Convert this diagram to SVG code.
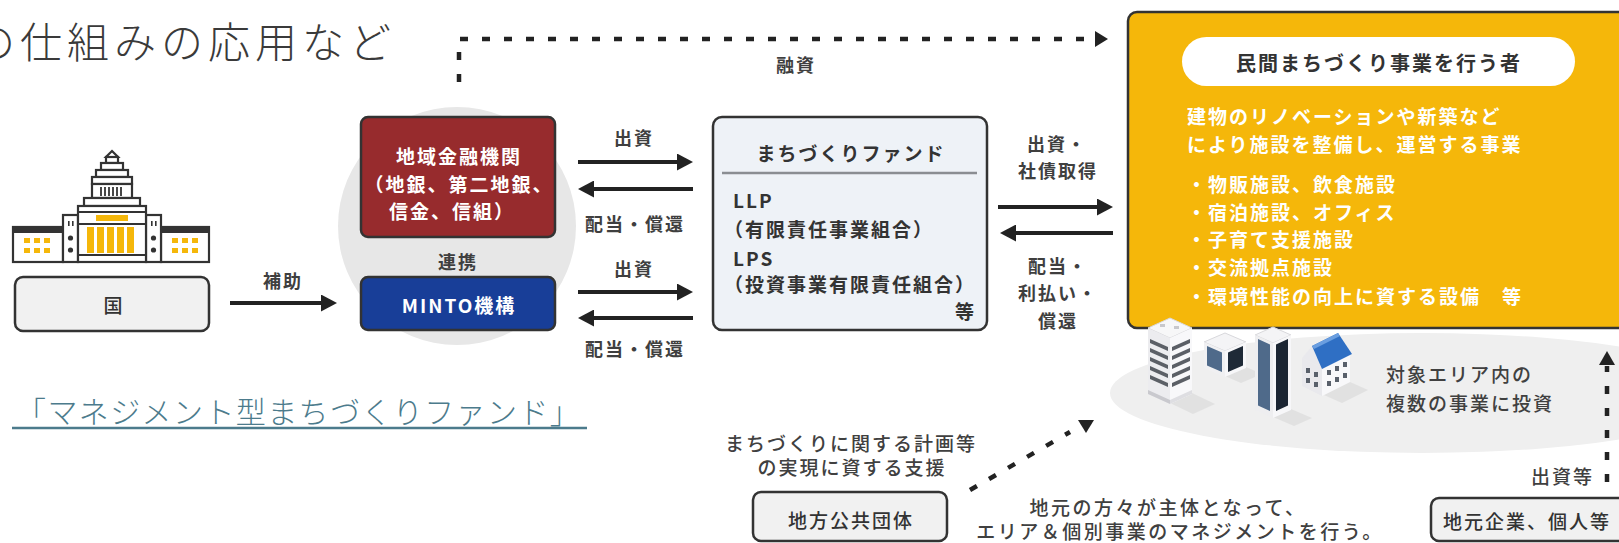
<svg xmlns="http://www.w3.org/2000/svg" width="1619" height="543" viewBox="0 0 1619 543">
  <style>
    text { font-family: "Noto Sans CJK JP", "Noto Sans", sans-serif; dominant-baseline: central; }
    .title { font-size: 42px; font-weight: 300; fill: #3a3a3a; letter-spacing: 5px; }
    .link { font-size: 30px; font-weight: 300; fill: #4c7b8c; letter-spacing: 1.4px; }
    .lbl { font-size: 18px; font-weight: 700; fill: #3f3f3f; letter-spacing: 2px; text-anchor: middle; }
    .note { font-size: 19px; font-weight: 500; fill: #404040; letter-spacing: 2px; }
    .mid { text-anchor: middle; }
    .end { text-anchor: end; }
    .box-text { font-size: 19px; font-weight: 700; fill: #333; letter-spacing: 2px; }
    .white { fill: #ffffff; }
    .solid { stroke: #222; stroke-width: 4; fill: none; }
    .dash { stroke: #222; stroke-width: 4.5; fill: none; stroke-dasharray: 8 14; }
    .outline { stroke: #333; stroke-width: 2.5; }
    .icon { stroke: #333; stroke-width: 2.2; fill: #fff; }
    .gold { fill: #f5b70a; }
  </style>
  <defs>
    <marker id="arrow" markerUnits="userSpaceOnUse" viewBox="0 0 16 17" markerWidth="16" markerHeight="17" refX="8" refY="8.5" orient="auto">
      <path d="M0,0 L16,8.5 L0,17 Z" fill="#222"/>
    </marker>
    <marker id="arrow-small" markerUnits="userSpaceOnUse" viewBox="0 0 13 16" markerWidth="13" markerHeight="16" refX="2" refY="8" orient="auto">
      <path d="M0,0 L13,8 L0,16 Z" fill="#222"/>
    </marker>
  </defs>

  <rect width="1619" height="543" fill="#ffffff"/>

  <!-- page heading and link -->
  <text class="title" x="-27" y="39">の仕組みの応用など</text>
  <g id="fund-link">
    <text class="link" x="16" y="410">「マネジメント型まちづくりファンド」</text>
    <line x1="12" y1="428" x2="587" y2="428" stroke="#4c7b8c" stroke-width="2.5"/>
  </g>

  <!-- national government -->
  <g id="node-kuni">
    <g id="diet-building">
      <path class="icon" d="M112,151 L118,157 L106,157 Z"/>
      <rect class="icon" x="106" y="157" width="12" height="6"/>
      <rect class="icon" x="101" y="163" width="22" height="7"/>
      <rect class="icon" x="96" y="170" width="32" height="7"/>
      <rect class="icon" x="92" y="177" width="40" height="7"/>
      <rect class="icon" x="92" y="184" width="40" height="14"/>
      <g stroke="#333" stroke-width="1.8">
        <line x1="101" y1="187" x2="101" y2="196"/>
        <line x1="105" y1="187" x2="105" y2="196"/>
        <line x1="109" y1="187" x2="109" y2="196"/>
        <line x1="113" y1="187" x2="113" y2="196"/>
        <line x1="117" y1="187" x2="117" y2="196"/>
        <line x1="121" y1="187" x2="121" y2="196"/>
      </g>
      <rect class="icon" x="84" y="198" width="56" height="8"/>
      <rect class="icon" x="13" y="227" width="50" height="35"/>
      <rect x="13" y="227" width="50" height="6" fill="#333"/>
      <rect class="icon" x="161" y="227" width="48" height="35"/>
      <rect x="161" y="227" width="48" height="6" fill="#333"/>
      <rect class="icon" x="63" y="215" width="15" height="47"/>
      <rect class="icon" x="146" y="215" width="15" height="47"/>
      <rect class="icon" x="78" y="206" width="68" height="56"/>
      <line x1="78" y1="212" x2="146" y2="212" stroke="#333" stroke-width="2"/>
      <rect class="gold" x="96" y="215" width="32" height="6"/>
      <line x1="78" y1="224" x2="146" y2="224" stroke="#333" stroke-width="2"/>
      <line x1="78" y1="255" x2="146" y2="255" stroke="#333" stroke-width="2"/>
      <g class="gold">
        <rect x="87" y="227" width="7" height="26"/>
        <rect x="97" y="227" width="7" height="26"/>
        <rect x="107" y="227" width="7" height="26"/>
        <rect x="117" y="227" width="7" height="26"/>
        <rect x="127" y="227" width="7" height="26"/>
        <rect x="24" y="238" width="6" height="5"/>
        <rect x="34" y="238" width="6" height="5"/>
        <rect x="44" y="238" width="6" height="5"/>
        <rect x="24" y="248" width="6" height="5"/>
        <rect x="34" y="248" width="6" height="5"/>
        <rect x="44" y="248" width="6" height="5"/>
        <rect x="172" y="238" width="6" height="5"/>
        <rect x="182" y="238" width="6" height="5"/>
        <rect x="192" y="238" width="6" height="5"/>
        <rect x="172" y="248" width="6" height="5"/>
        <rect x="182" y="248" width="6" height="5"/>
        <rect x="192" y="248" width="6" height="5"/>
      </g>
      <g fill="#333">
        <circle cx="70.5" cy="238" r="2.6"/>
        <circle cx="70.5" cy="250" r="2.6"/>
        <circle cx="153.5" cy="238" r="2.6"/>
        <circle cx="153.5" cy="250" r="2.6"/>
        <rect x="68" y="221" width="1.6" height="5"/>
        <rect x="72" y="221" width="1.6" height="5"/>
        <rect x="151" y="221" width="1.6" height="5"/>
        <rect x="155" y="221" width="1.6" height="5"/>
      </g>
    </g>
    <rect class="outline" x="15" y="277" width="194" height="54" rx="8" fill="#f1f1f1"/>
    <text class="box-text mid" x="114" y="304" style="font-weight:500">国</text>
  </g>

  <!-- regional financial institutions and MINTO -->
  <circle id="cooperation-circle" cx="457" cy="226" r="119" fill="#e7e7e7"/>
  <g id="node-bank">
    <rect class="outline" x="361" y="117" width="194" height="120" rx="7" fill="#972b2d"/>
    <text class="box-text white mid" x="459" y="155">地域金融機関</text>
    <text class="box-text white mid" x="459" y="183">（地銀、第二地銀、</text>
    <text class="box-text white mid" x="452" y="210">信金、信組）</text>
  </g>
  <text class="lbl" x="458" y="261">連携</text>
  <g id="node-minto">
    <rect class="outline" x="361" y="277" width="194" height="53" rx="7" fill="#183e98"/>
    <text class="box-text white mid" x="459" y="304">MINTO機構</text>
  </g>

  <!-- town development fund -->
  <g id="node-fund">
    <rect class="outline" x="713" y="117" width="274" height="213" rx="9" fill="#eef2f7"/>
    <text class="box-text mid" x="851" y="152">まちづくりファンド</text>
    <line x1="722" y1="173" x2="977" y2="173" stroke="#8a8d92" stroke-width="2.5"/>
    <text class="box-text" x="733" y="199">LLP</text>
    <text class="box-text" x="724" y="228">（有限責任事業組合）</text>
    <text class="box-text" x="733" y="257">LPS</text>
    <text class="box-text" x="724" y="283">（投資事業有限責任組合）</text>
    <text class="box-text end" x="976" y="310">等</text>
  </g>

  <!-- private town development operator -->
  <ellipse id="target-area" cx="1422" cy="393" rx="312" ry="60" fill="#efefef"/>
  <g id="node-operator">
    <rect class="outline" x="1128" y="12" width="520" height="316" rx="9" fill="#f5b70a"/>
    <rect x="1182" y="37" width="393" height="49" rx="24.5" fill="#ffffff"/>
    <text class="box-text mid" x="1379" y="62" style="font-size:20px">民間まちづくり事業を行う者</text>
    <text class="box-text white" x="1187" y="115">建物のリノベーションや新築など</text>
    <text class="box-text white" x="1187" y="143">により施設を整備し、運営する事業</text>
    <text class="box-text white" x="1187" y="183">・物販施設、飲食施設</text>
    <text class="box-text white" x="1187" y="211">・宿泊施設、オフィス</text>
    <text class="box-text white" x="1187" y="238">・子育て支援施設</text>
    <text class="box-text white" x="1187" y="266">・交流拠点施設</text>
    <text class="box-text white" x="1187" y="295">・環境性能の向上に資する設備　等</text>
  </g>

  <!-- buildings in the target area -->
  <g id="buildings">
    <g fill="#dcdcdc" opacity="0.7">
      <path d="M1170,403 L1192,393 L1215,404 L1193,414 Z"/>
      <path d="M1225,376 L1246,367 L1262,374 L1241,383 Z"/>
      <path d="M1273,417 L1291,409 L1312,418 L1294,426 Z"/>
      <path d="M1324,395 L1350,382 L1368,390 L1342,403 Z"/>
    </g>
    <!-- white tower -->
    <path d="M1170,318 L1192,328 L1170,338 L1148,328 Z" fill="#f7f7f8" stroke="#d8d8dc" stroke-width="1"/>
    <path d="M1148,328 L1170,338 L1170,404 L1148,394 Z" fill="#ececef"/>
    <path d="M1170,338 L1192,328 L1192,394 L1170,404 Z" fill="#f8f8fa"/>
    <g fill="#5b5f66">
      <path d="M1150,339 L1168,347 L1168,351 L1150,343 Z"/>
      <path d="M1150,348 L1168,356 L1168,360 L1150,352 Z"/>
      <path d="M1150,357 L1168,365 L1168,369 L1150,361 Z"/>
      <path d="M1150,366 L1168,374 L1168,378 L1150,370 Z"/>
      <path d="M1150,375 L1168,383 L1168,387 L1150,379 Z"/>
      <path d="M1172,347 L1190,339 L1190,343 L1172,351 Z"/>
      <path d="M1172,356 L1190,348 L1190,352 L1172,360 Z"/>
      <path d="M1172,365 L1190,357 L1190,361 L1172,369 Z"/>
      <path d="M1172,374 L1190,366 L1190,370 L1172,378 Z"/>
      <path d="M1172,383 L1190,375 L1190,379 L1172,387 Z"/>
    </g>
    <path d="M1148,390 L1170,400 L1170,404 L1148,394 Z" fill="#c9c9ce"/>
    <path d="M1170,400 L1192,390 L1192,394 L1170,404 Z" fill="#dedee2"/>
    <rect x="1160" y="324" width="5" height="3" fill="#c8c8cc"/>
    <rect x="1174" y="326" width="5" height="3" fill="#c8c8cc"/>
    <!-- small dark cube -->
    <path d="M1225,333 L1246,342 L1225,351 L1204,342 Z" fill="#f4f4f6" stroke="#d8d8dc" stroke-width="1"/>
    <path d="M1204,342 L1225,351 L1225,377 L1204,368 Z" fill="#f0f0f2"/>
    <path d="M1225,351 L1246,342 L1246,368 L1225,377 Z" fill="#f7f7f9"/>
    <path d="M1207,346 L1222,352.5 L1222,372 L1207,365.5 Z" fill="#4f6a8a"/>
    <path d="M1228,352.5 L1243,346 L1243,365.5 L1228,372 Z" fill="#1f2a37"/>
    <!-- tall dark tower -->
    <path d="M1273,327 L1291,335 L1273,343 L1255,335 Z" fill="#f4f4f6" stroke="#d8d8dc" stroke-width="1"/>
    <path d="M1255,335 L1273,343 L1273,418 L1255,410 Z" fill="#eeeef0"/>
    <path d="M1273,343 L1291,335 L1291,410 L1273,418 Z" fill="#f7f7f9"/>
    <path d="M1258,339 L1270,344.5 L1270,411 L1258,405.5 Z" fill="#4f6a8a"/>
    <path d="M1276,344.5 L1288,339 L1288,405.5 L1276,411 Z" fill="#1c2633"/>
    <!-- house with blue roof -->
    <path d="M1302,358 L1322,368 L1322,396 L1302,386 Z" fill="#e9e9ed"/>
    <path d="M1322,368 L1350,354 L1350,382 L1322,396 Z" fill="#f8f8fa"/>
    <path d="M1302,358 L1312,346 L1322,368 Z" fill="#e9e9ed"/>
    <path d="M1312,346 L1338,333 L1352,354 L1322,369 Z" fill="#2f6fc4"/>
    <path d="M1312,346 L1338,333 L1340,336 L1314,349 Z" fill="#6a9ee0"/>
    <g fill="#59606b">
      <rect x="1306" y="368" width="4" height="5"/>
      <rect x="1314" y="372" width="4" height="5"/>
      <rect x="1306" y="378" width="4" height="5"/>
      <rect x="1314" y="382" width="4" height="5"/>
      <rect x="1327" y="370" width="4" height="5"/>
      <rect x="1335" y="366" width="4" height="5"/>
      <rect x="1343" y="362" width="4" height="5"/>
      <rect x="1327" y="381" width="4" height="5"/>
      <rect x="1335" y="377" width="4" height="5"/>
      <rect x="1343" y="373" width="4" height="5"/>
    </g>
  </g>
  <text class="note" x="1386" y="373">対象エリア内の</text>
  <text class="note" x="1386" y="402">複数の事業に投資</text>

  <!-- local government and local investors -->
  <text class="note mid" x="851" y="442">まちづくりに関する計画等</text>
  <text class="note mid" x="852" y="466">の実現に資する支援</text>
  <g id="node-local-gov">
    <rect class="outline" x="753" y="492" width="194" height="49" rx="8" fill="#f1f1f1"/>
    <text class="box-text mid" x="851" y="519" style="font-weight:500">地方公共団体</text>
  </g>
  <text class="note mid" x="1168" y="506" style="letter-spacing:2.5px">地元の方々が主体となって、</text>
  <text class="note mid" x="1180" y="530" style="letter-spacing:2.5px">エリア＆個別事業のマネジメントを行う。</text>
  <text class="note end" x="1594" y="475">出資等</text>
  <g id="node-local-investors">
    <rect class="outline" x="1431" y="498" width="220" height="43" rx="8" fill="#f1f1f1"/>
    <text class="box-text" x="1443" y="520" style="font-weight:500">地元企業、個人等</text>
  </g>

  <!-- connectors -->
  <g id="connectors">
    <line class="solid" x1="230" y1="303" x2="329" y2="303" marker-end="url(#arrow)"/>
    <text class="lbl" x="283" y="280">補助</text>

    <line class="solid" x1="578" y1="162" x2="685" y2="162" marker-end="url(#arrow)"/>
    <line class="solid" x1="693" y1="189" x2="586" y2="189" marker-end="url(#arrow)"/>
    <text class="lbl" x="634" y="137">出資</text>
    <text class="lbl" x="635" y="223">配当・償還</text>

    <line class="solid" x1="578" y1="292" x2="685" y2="292" marker-end="url(#arrow)"/>
    <line class="solid" x1="693" y1="318" x2="586" y2="318" marker-end="url(#arrow)"/>
    <text class="lbl" x="634" y="268">出資</text>
    <text class="lbl" x="635" y="348">配当・償還</text>

    <line class="solid" x1="998" y1="207" x2="1105" y2="207" marker-end="url(#arrow)"/>
    <line class="solid" x1="1113" y1="233" x2="1008" y2="233" marker-end="url(#arrow)"/>
    <text class="lbl" x="1057" y="143">出資・</text>
    <text class="lbl" x="1058" y="170">社債取得</text>
    <text class="lbl" x="1058" y="265">配当・</text>
    <text class="lbl" x="1058" y="292">利払い・</text>
    <text class="lbl" x="1058" y="320">償還</text>

    <path class="dash" d="M459,82 V39 H1097" marker-end="url(#arrow-small)"/>
    <text class="lbl" x="796" y="64">融資</text>

    <path class="dash" d="M970,490 L1070,432" stroke-dasharray="6 12"/>
    <path d="M1078,420 L1094,420 L1086,433 Z" fill="#222"/>

    <path class="dash" d="M1607,482 V366"/>
    <path d="M1607,351 L1615,365 L1599,365 Z" fill="#222"/>
  </g>
</svg>
